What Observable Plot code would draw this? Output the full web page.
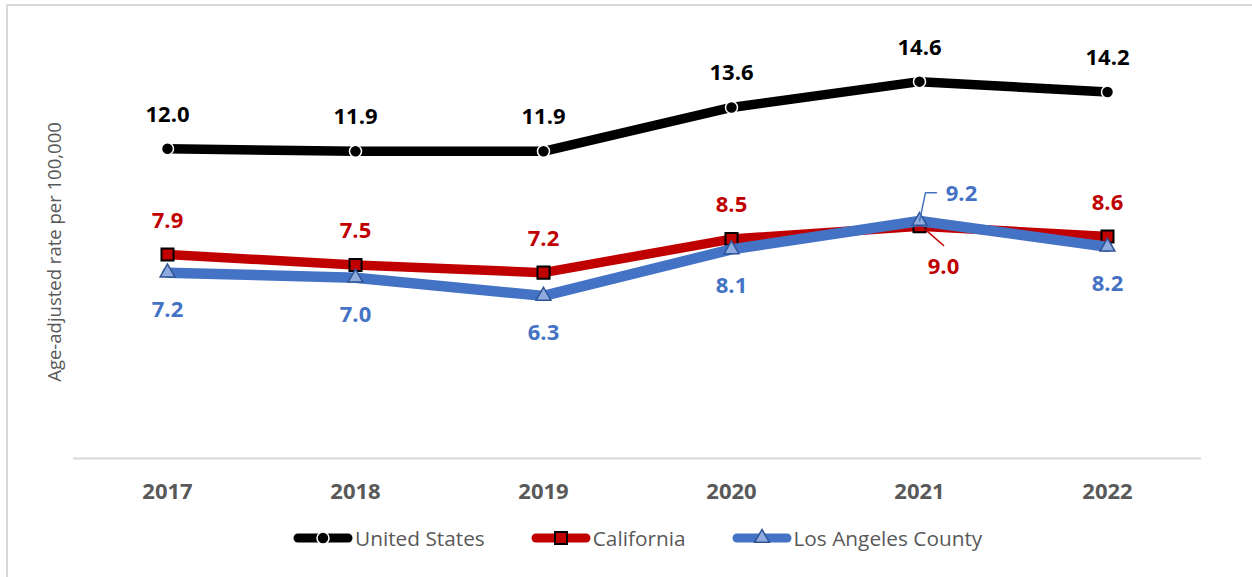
<!DOCTYPE html>
<html>
<head>
<meta charset="utf-8">
<script src="https://cdn.jsdelivr.net/npm/d3@7"></script>
<script src="https://cdn.jsdelivr.net/npm/@observablehq/plot@0.6"></script>
<style>
  html, body { margin: 0; padding: 0; background: #fff; overflow: hidden; }
  #wrap { position: relative; width: 1252px; height: 577px; overflow: hidden; font-family: "Open Sans", sans-serif; }
  #border { position: absolute; left: 6px; top: 4px; width: 1300px; height: 650px; border: 2px solid #d9d9d9; box-sizing: border-box; }
  #chart { position: absolute; left: 0; top: 0; }
  #legend { position: absolute; left: 293px; top: 524px; height: 28px; display: flex; align-items: center; gap: 46px; }
  .item { display: flex; align-items: center; gap: 2px; font-size: 20.8px; color: #595959; }
  .item svg { display: block; }
</style>
</head>
<body>
<div id="wrap">
  <div id="border"></div>
  <div id="chart"></div>
  <div id="legend"></div>
</div>
<script>
const years = [2017, 2018, 2019, 2020, 2021, 2022];
const usValues = [12.0, 11.9, 11.9, 13.6, 14.6, 14.2];
const caValues = [7.9, 7.5, 7.2, 8.5, 9.0, 8.6];
const laValues = [7.2, 7.0, 6.3, 8.1, 9.2, 8.2];
const seriesNames = ["United States", "California", "Los Angeles County"];
const yAxisLabel = "Age-adjusted rate per 100,000";

// leader lines for the crowded 2021 labels (data space)
const caLeader = [{x: 2021.01, y: 9.0}, {x: 2021.128, y: 8.25}];
const laLeader = [{x: 2021.0, y: 9.2}, {x: 2021.032, y: 10.3}, {x: 2021.09, y: 10.3}];

const toRows = (vals) => years.map((yr, i) => ({year: yr, value: vals[i]}));
const us = toRows(usValues), ca = toRows(caValues), la = toRows(laValues);

const BLACK = "#000000", RED = "#C00000", BLUE = "#4472C4", BLUE_FILL = "#8FAADC", BLUE_EDGE = "#2F5597";
const fmt = d => d.value.toFixed(1);
const labelFont = {fontSize: 22, fontWeight: "bold", fontFamily: "Open Sans"};

const plot = Plot.plot({
  width: 1252,
  height: 520,
  marginLeft: 73,
  marginRight: 51,
  marginTop: 45,
  marginBottom: 62,
  style: {fontFamily: "Open Sans", background: "transparent", overflow: "visible"},
  x: {domain: [2016.5, 2022.5]},
  y: {domain: [0, 16], axis: null},
  marks: [
    Plot.ruleY([0], {stroke: "#d9d9d9", strokeWidth: 2}),
    Plot.axisX({ticks: years, tickFormat: d => String(d), tickSize: 0, tickPadding: 25,
      fontSize: 22, fontWeight: "bold", fill: "#595959", label: null}),
    Plot.text([yAxisLabel], {frameAnchor: "left", textAnchor: "middle", rotate: -90, dx: -18, fontSize: 18.5, fill: "#595959", fontFamily: "Open Sans"}),
    // United States
    Plot.line(us, {x: "year", y: "value", stroke: BLACK, strokeWidth: 9.5, strokeLinecap: "round", strokeLinejoin: "round"}),
    Plot.dot(us, {x: "year", y: "value", r: 6, fill: BLACK, stroke: "#fff", strokeWidth: 1.5}),
    Plot.text(us, {x: "year", y: "value", text: fmt, dy: -34, fill: BLACK, ...labelFont}),
    // California
    Plot.line(ca, {x: "year", y: "value", stroke: RED, strokeWidth: 9.5, strokeLinecap: "round", strokeLinejoin: "round"}),
    Plot.dot(ca, {x: "year", y: "value", symbol: "square", r: 6.8, fill: RED, stroke: BLACK, strokeWidth: 2}),
    Plot.text(ca.filter(d => d.year !== 2021), {x: "year", y: "value", text: fmt, dy: -34, fill: RED, ...labelFont}),
    Plot.line(caLeader, {x: "x", y: "y", stroke: RED, strokeWidth: 1.5}),
    Plot.text(ca.filter(d => d.year === 2021), {x: "year", y: "value", text: fmt, dx: 24, dy: 41, fill: RED, ...labelFont}),
    // Los Angeles County
    Plot.line(la, {x: "year", y: "value", stroke: BLUE, strokeWidth: 10.5, strokeLinecap: "round", strokeLinejoin: "round"}),
    Plot.dot(la, {x: "year", y: "value", symbol: "triangle", r: 5.5, fill: BLUE_FILL, stroke: BLUE_EDGE, strokeWidth: 1.5}),
    Plot.text(la.filter(d => d.year !== 2021), {x: "year", y: "value", text: fmt, dy: 37, fill: BLUE, ...labelFont}),
    Plot.line(laLeader, {x: "x", y: "y", stroke: BLUE, strokeWidth: 1.5}),
    Plot.text(la.filter(d => d.year === 2021), {x: "year", y: "value", text: fmt, dx: 42, dy: -27, fill: BLUE, ...labelFont})
  ]
});
document.getElementById("chart").appendChild(plot);

// Legend
const legendSpecs = [
  {name: seriesNames[0], color: BLACK, marker: "circle"},
  {name: seriesNames[1], color: RED, marker: "square"},
  {name: seriesNames[2], color: BLUE, marker: "triangle"}
];
const legend = d3.select("#legend");
for (const s of legendSpecs) {
  const item = legend.append("div").attr("class", "item");
  const svg = item.append("svg").attr("width", 60).attr("height", 24);
  svg.append("line").attr("x1", 5).attr("x2", 55).attr("y1", 12).attr("y2", 12)
    .attr("stroke", s.color).attr("stroke-width", 9).attr("stroke-linecap", "round");
  if (s.marker === "circle") {
    svg.append("circle").attr("cx", 30).attr("cy", 12).attr("r", 6).attr("fill", BLACK).attr("stroke", "#fff").attr("stroke-width", 1.5);
  } else if (s.marker === "square") {
    svg.append("rect").attr("x", 24).attr("y", 6).attr("width", 12).attr("height", 12).attr("fill", RED).attr("stroke", BLACK).attr("stroke-width", 2);
  } else {
    svg.append("path").attr("d", d3.symbol(d3.symbolTriangle, Math.PI * 5.5 * 5.5)()).attr("transform", "translate(30,12)")
      .attr("fill", BLUE_FILL).attr("stroke", BLUE_EDGE).attr("stroke-width", 1.5);
  }
  item.append("span").text(s.name);
}
</script>
</body>
</html>
